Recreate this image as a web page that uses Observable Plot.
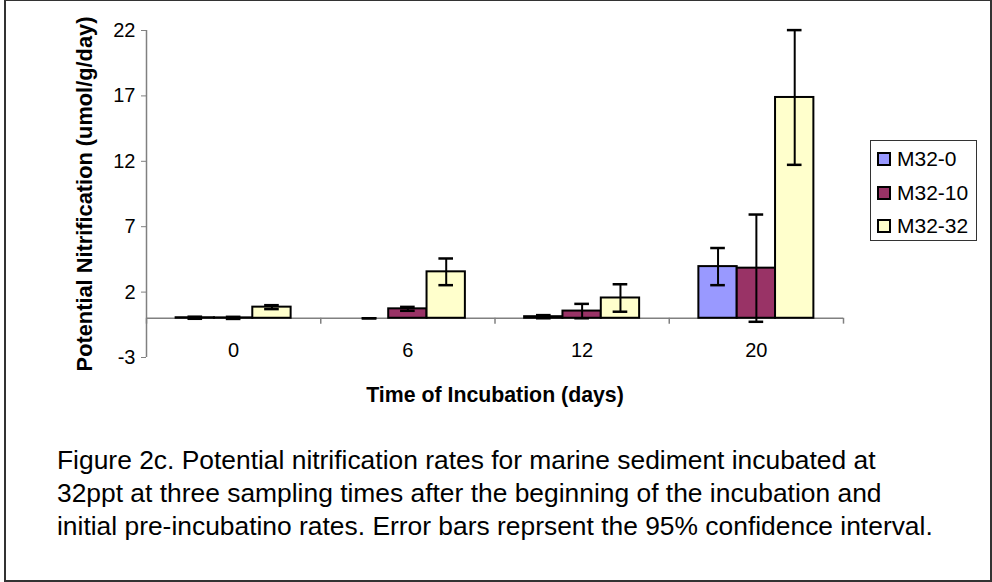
<!DOCTYPE html>
<html>
<head>
<meta charset="utf-8">
<script src="https://cdn.jsdelivr.net/npm/d3@7"></script>
<script src="https://cdn.jsdelivr.net/npm/@observablehq/plot@0.6"></script>
<style>
  html, body { margin: 0; padding: 0; background: #fff; }
  body { font-family: "Liberation Sans", Arial, sans-serif; }
  #wrap { position: relative; width: 992px; height: 582px; overflow: hidden; }
  #border { position: absolute; left: 4px; top: 0; width: 988px; height: 582px; box-sizing: border-box; border: 2px solid #333; border-top-width: 1.5px; }
  #chart { position: absolute; left: 0; top: 0; }
  #legend { position: absolute; left: 870px; top: 140px; width: 107px; height: 101px; box-sizing: border-box; border: 1.5px solid #333; background: #fff; font-size: 21px; color: #000; }
  .item { position: absolute; left: 6px; height: 22px; display: flex; align-items: center; }
  .sw { width: 10px; height: 10px; border: 2px solid #000; margin-right: 6px; flex: none; }
  #caption { position: absolute; left: 57px; top: 444px; width: 930px; font-size: 26.4px; line-height: 33px; color: #000; white-space: nowrap; }
</style>
</head>
<body>
<div id="wrap">
  <div id="border"></div>
  <div id="chart"></div>
  <div id="legend"></div>
  <div id="caption">Figure 2c. Potential nitrification rates for marine sediment incubated at<br>32ppt at three sampling times after the beginning of the incubation and<br>initial pre-incubatino rates. Error bars reprsent the 95% confidence interval.</div>
</div>
<script>
// ---- data ----
const categories = ["0", "6", "12", "20"];
const seriesNames = ["M32-0", "M32-10", "M32-32"];
const seriesColors = ["#9999FF", "#993366", "#FFFFCC"];
const valuesM32_0  = [0.04, 0.0, 0.12, 3.95];
const valuesM32_10 = [0.03, 0.72, 0.55, 3.83];
const valuesM32_32 = [0.85, 3.55, 1.55, 16.88];
const ciM32_0  = [0.08, 0.0, 0.12, 1.42];
const ciM32_10 = [0.08, 0.15, 0.55, 4.1];
const ciM32_32 = [0.15, 1.02, 1.05, 5.15];
const yTicks = [-3, 2, 7, 12, 17, 22];
const xTitle = "Time of Incubation (days)";
const yTitle = "Potential Nitrification (umol/g/day)";

const values = [valuesM32_0, valuesM32_10, valuesM32_32];
const cis = [ciM32_0, ciM32_10, ciM32_32];

const barW = 0.22;
const rows = [];
categories.forEach((c, i) => {
  seriesNames.forEach((s, j) => {
    const x1 = i - 1.5 * barW + j * barW;
    rows.push({cat: c, series: s, v: values[j][i], ci: cis[j][i], x1, x2: x1 + barW, xc: x1 + barW / 2});
  });
});
const capHalf = 0.042;
const boundaries = d3.range(categories.length + 1).map(k => k - 0.5);

const chart = Plot.plot({
  width: 860,
  height: 410,
  marginLeft: 146,
  marginRight: 17,
  marginTop: 30,
  marginBottom: 53,
  style: {fontFamily: "'Liberation Sans', Arial, sans-serif", fontSize: "20px", color: "#000", background: "transparent"},
  x: {domain: [-0.5, categories.length - 0.5], axis: null},
  y: {domain: [-3, 22], axis: null},
  color: {domain: seriesNames, range: seriesColors},
  marks: [
    // y axis line and ticks
    Plot.ruleX([-0.5], {y1: -3, y2: 22, stroke: "#808080", strokeWidth: 1.5}),
    Plot.axisY({ticks: yTicks, tickSize: 5, tickPadding: 6, stroke: "#808080", fill: "#000", fontSize: 20, label: null, tickFormat: d => String(d)}),
    // x axis at zero
    Plot.ruleY([0], {stroke: "#808080", strokeWidth: 1.5}),
    Plot.ruleX(boundaries, {y1: 0, y2: -0.45, stroke: "#808080", strokeWidth: 1.5}),
    Plot.axisX({ticks: d3.range(categories.length), tickSize: 0, tickPadding: -15, tickFormat: d => categories[d], fill: "#000", fontSize: 20, label: null}),
    // bars
    Plot.rectY(rows.filter(d => d.v !== 0), {x1: "x1", x2: "x2", y1: 0, y2: "v", fill: "series", stroke: "#000", strokeWidth: 2}),
    // error bars
    Plot.ruleX(rows, {x: "xc", y1: d => d.v - d.ci, y2: d => d.v + d.ci, stroke: "#000", strokeWidth: 2}),
    Plot.ruleY(rows, {y: d => d.v + d.ci, x1: d => d.xc - capHalf, x2: d => d.xc + capHalf, stroke: "#000", strokeWidth: 2.5}),
    Plot.ruleY(rows, {y: d => d.v - d.ci, x1: d => d.xc - capHalf, x2: d => d.xc + capHalf, stroke: "#000", strokeWidth: 2.5}),
    // axis titles
    Plot.text([xTitle], {frameAnchor: "bottom", text: d => d, dy: 38, lineAnchor: "middle", textAnchor: "middle", fontWeight: "bold", fontSize: 21.3, fill: "#000"}),
    Plot.text([yTitle], {frameAnchor: "left", text: d => d, dx: -61, rotate: -90, lineAnchor: "middle", textAnchor: "middle", fontWeight: "bold", fontSize: 21.8, fill: "#000"})
  ]
});
document.getElementById("chart").appendChild(chart);

// legend
const legend = document.getElementById("legend");
seriesNames.forEach((s, j) => {
  const it = document.createElement("div");
  it.className = "item";
  it.style.top = (7 + j * 33.5) + "px";
  const sw = document.createElement("span");
  sw.className = "sw";
  sw.style.background = seriesColors[j];
  const t = document.createElement("span");
  t.textContent = s;
  it.appendChild(sw);
  it.appendChild(t);
  legend.appendChild(it);
});
</script>
</body>
</html>
